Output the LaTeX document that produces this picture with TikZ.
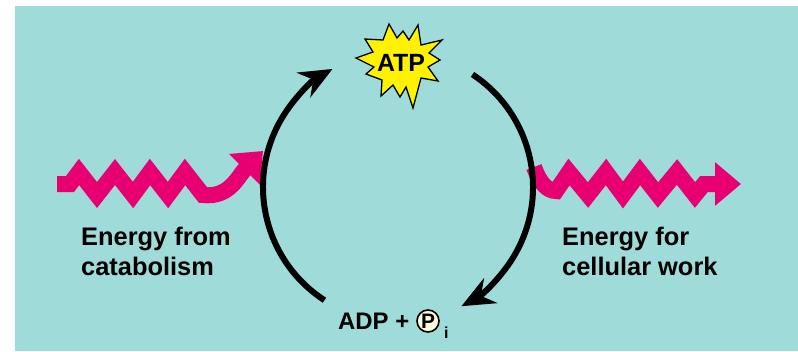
\documentclass[tikz,border=0pt]{standalone}
\usepackage{fontspec}
\setmainfont{Liberation Sans}
\usepackage{xcolor}
\usetikzlibrary{shapes.geometric}
\usetikzlibrary{arrows.meta, calc, positioning}

\definecolor{poolteal}{RGB}{159,219,216}
\definecolor{zapred}{RGB}{232,0,114}
\definecolor{cream}{RGB}{255,248,214}

\begin{document}
\begin{tikzpicture}[x=1bp, y=-1bp,
  labeltext/.style={font=\fontsize{25.5}{30}\selectfont\bfseries, inner sep=0pt},
  wave/.style={draw=zapred, line width=16bp, line join=miter, -{Triangle[length=26bp, width=42bp]}},
  cyclearrow/.style={line width=6bp, -{Stealth[length=33bp, width=28bp, inset=11bp]}}]
\def\rad{135}
\useasboundingbox (0,0) rectangle (798,351);
\fill[poolteal] (15,6) rectangle (798,351);

\coordinate (cyc) at (398,187);
\coordinate (inL) at (57,184);
\coordinate (tipL) at (263,151);
\coordinate (inR) at (534,167);
\coordinate (tipR) at (741,184);

\draw[wave] (inL) -- (70,184) -- (79,172) -- (97,195) -- (115,172) -- (133,195) -- (150,172) -- (168,195) -- (185,172) -- (203,195) .. controls (230,198) and (238,176) .. (tipL);

\draw[wave] (inR) .. controls (540,184) and (548,191) .. (556,191) -- (569,172) -- (588,195) -- (606,172) -- (623,195) -- (640,172) -- (658,195) -- (677,172) -- (695,195) -- (704,184) -- (tipR);

\draw[cyclearrow] ($(cyc)+(123:\rad)$) arc[start angle=123, end angle=241, radius=\rad];
\draw[cyclearrow] ($(cyc)+(-56.5:\rad)$) arc[start angle=-56.5, end angle=62, radius=\rad];

\filldraw[fill=yellow, draw=black, line width=1.3bp, line join=miter] (389,24) -- (397,38) -- (403,31) -- (409,40) -- (418,25) -- (421,45) -- (442,40) -- (429,53) -- (440,60) -- (428,67) -- (438,81) -- (421,78) -- (413,108) -- (406,87) -- (400,97) -- (393,85) -- (381,96) -- (382,80) -- (366,74) -- (374,67) -- (356,58) -- (373,52) -- (365,39) -- (383,40) -- cycle;
\node[font=\fontsize{25}{25}\selectfont\bfseries, inner sep=0pt] (atp) at (401,63) {ATP};

\node[labeltext, align=left, anchor=north west] (catab) at (81,227) {Energy from\\catabolism};
\node[labeltext, align=left, anchor=north west] (work) at (562,227) {Energy for\\cellular work};

\node[font=\fontsize{24}{24}\selectfont\bfseries, inner sep=0pt, anchor=base west] (adp) at (338,329) {ADP +};
\node[draw, circle, fill=cream, line width=1.6bp, minimum size=22bp, inner sep=0pt, font=\fontsize{21}{21}\selectfont\bfseries] (pi) at (428,321) {P};
\node[font=\fontsize{16}{16}\selectfont\bfseries, anchor=base west, inner sep=0pt] (sub) at (444,338) {i};
\end{tikzpicture}
\end{document}
